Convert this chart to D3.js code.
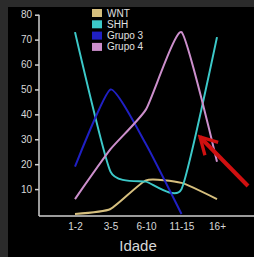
<!DOCTYPE html>
<meta charset="utf-8">
<style>
body { margin: 0; background: #2b2b2b; }
.axis text { fill: #d8d8d8; font-family: "Liberation Sans Narrow", "Liberation Sans", sans-serif; font-size: 10px; }
.axis path, .axis line { stroke: #cfcfcf; stroke-width: 1.5px; }
.line { fill: none; stroke-width: 2px; }
</style>
<body>
<script src="https://d3js.org/d3.v7.min.js"></script>
<script>
// categories and series
var ages = ["1-2", "3-5", "6-10", "11-15", "16+"];
var wnt = [0, 2, 13.5, 12.5, 6];
var shh = [73, 17, 13, 10, 71];
var grupo3 = [19, 50, 28, 0];
var grupo4 = [6, 26, 42, 73, 21];
var yTicks = [10, 20, 30, 40, 50, 60, 70, 80];

var series = [
  {name: "WNT", values: wnt, color: "#d6bf7e"},
  {name: "SHH", values: shh, color: "#3cc9c9"},
  {name: "Grupo 3", values: grupo3, color: "#2020c4"},
  {name: "Grupo 4", values: grupo4, color: "#cc8fcc"}
];

var svg = d3.select("body").append("svg")
    .attr("width", 254)
    .attr("height", 257)
    .style("display", "block");

// black panel
svg.append("rect")
    .attr("x", 8).attr("y", 7)
    .attr("width", 246).attr("height", 250)
    .attr("fill", "#000");

var x = d3.scalePoint().domain(ages).range([75, 217]);
var y = d3.scaleLinear().domain([0, 80]).range([214, 14.7]);

var line = d3.line()
    .x(function(d, i) { return x(ages[i]); })
    .y(function(d) { return y(d); })
    .curve(d3.curveCardinal.tension(0.5));

// y axis
var yAxis = svg.append("g")
    .attr("class", "axis")
    .attr("transform", "translate(39,0)")
    .call(d3.axisLeft(y).tickValues(yTicks).tickSize(4).tickSizeOuter(0).tickPadding(3));
yAxis.select(".domain").attr("d", "M0," + y(80) + "V216");

// x axis
var xAxis = svg.append("g")
    .attr("class", "axis")
    .attr("transform", "translate(0,216)")
    .call(d3.axisBottom(x).tickSize(0).tickPadding(7));
xAxis.select(".domain").attr("d", "M39,0H254");

svg.append("text")
    .attr("x", 138)
    .attr("y", 251)
    .attr("text-anchor", "middle")
    .attr("fill", "#d8d8d8")
    .style("font-family", "'Liberation Sans Narrow', 'Liberation Sans', sans-serif")
    .style("font-size", "15px")
    .text("Idade");

// lines
series.forEach(function(s) {
  svg.append("path")
      .datum(s.values)
      .attr("class", "line")
      .style("stroke", s.color)
      .attr("d", line);
});

// legend
var legend = svg.selectAll(".legend")
    .data(series)
  .enter().append("g")
    .attr("transform", function(d, i) { return "translate(92," + (9 + i * 11.3) + ")"; });
legend.append("rect")
    .attr("width", 10).attr("height", 8)
    .attr("fill", function(d) { return d.color; });
legend.append("text")
    .attr("x", 15).attr("y", 7.5)
    .attr("fill", "#e0e0e0")
    .style("font-family", "'Liberation Sans Narrow', 'Liberation Sans', sans-serif")
    .style("font-size", "10px")
    .text(function(d) { return d.name; });

// red arrow pointing at the SHH rise
svg.append("defs").append("marker")
    .attr("id", "head")
    .attr("viewBox", "0 0 10 10")
    .attr("refX", 8.5).attr("refY", 5)
    .attr("markerWidth", 5.5).attr("markerHeight", 5.5)
    .attr("orient", "auto")
  .append("path")
    .attr("d", "M1,0.8 L8.5,5 L1,9.2")
    .attr("fill", "none")
    .attr("stroke", "#d01010")
    .attr("stroke-width", 1.5)
    .attr("stroke-linejoin", "miter");
svg.append("line")
    .attr("x1", 248).attr("y1", 186)
    .attr("x2", 200).attr("y2", 137)
    .attr("stroke", "#d01010")
    .attr("stroke-width", 4)
    .attr("marker-end", "url(#head)");
</script>
</body>
